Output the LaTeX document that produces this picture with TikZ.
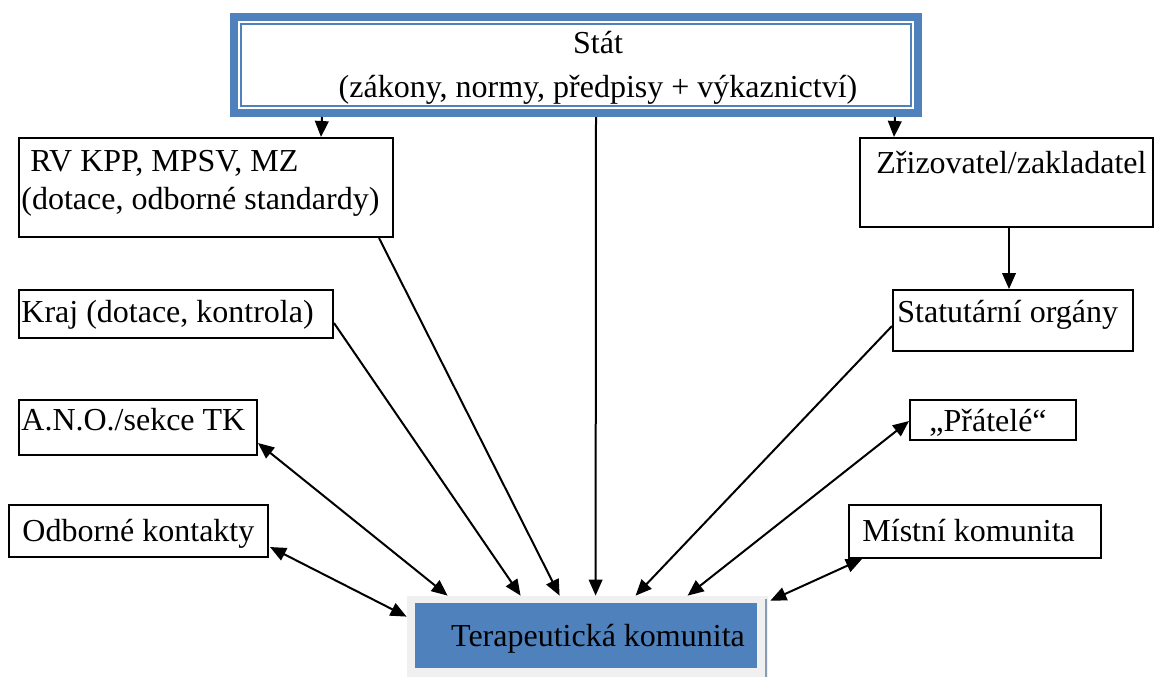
\documentclass[tikz,border=0pt]{standalone}
\usepackage{fontspec}
\setmainfont{Liberation Serif}
\usetikzlibrary{calc,arrows.meta,fit}
\definecolor{tkblue}{HTML}{4F81BD}
\definecolor{tkgray}{HTML}{F0F0F0}
\definecolor{edgegray}{HTML}{8A9BB3}
\begin{document}
\begin{tikzpicture}[x=0.5pt,y=-0.5pt,
  >={Triangle[length=8pt,width=6.8pt]},
  box/.style={draw=black, line width=1pt, rectangle, inner sep=0pt},
  lbl/.style={font=\fontsize{16}{19}\selectfont, inner sep=0pt, anchor=west, text height=1.5ex, text depth=0.3ex, yshift=-2.75pt},
  clbl/.style={lbl, anchor=center},
  arr/.style={->, line width=1pt},
  darr/.style={<->, line width=1pt}]
\useasboundingbox (0,0) rectangle (1157,677);

% state (top) box with double blue frame
\node[draw=tkblue, line width=4pt, inner sep=0pt, fit={(234,17) (918,113)}] (stat) {};
\draw[tkblue, line width=0.8pt] (241,24) rectangle (911,106);
\node[clbl] (statA) at (598,42) {Stát};
\node[clbl] (statB) at (598,86) {(zákony, normy, předpisy + výkaznictví)};

% left column
\node[box, fit={(19,138) (393,237)}] (rv) {};
\node[lbl] (rvA) at (30,160) {RV KPP, MPSV, MZ};
\node[lbl] (rvB) at (21,198) {(dotace, odborné standardy)};

\node[box, fit={(19,290) (333,338)}] (kraj) {};
\node[lbl] (krajT) at (21,311) {Kraj (dotace, kontrola)};

\node[box, fit={(19,400) (257,455)}] (ano) {};
\node[lbl] (anoT) at (21,419) {A.N.O./sekce TK};

\node[box, fit={(9,505) (268,557)}] (odb) {};
\node[lbl] (odbT) at (22,530) {Odborné kontakty};

% right column
\node[box, fit={(860,138) (1153,227)}] (zriz) {};
\node[lbl] (zrizT) at (876,162) {Zřizovatel/zakladatel};

\node[box, fit={(893,290) (1133,351)}] (stut) {};
\node[lbl] (stutT) at (897,311) {Statutární orgány};

\node[box, fit={(910,400) (1076,440)}] (prat) {};
\node[lbl] (pratT) at (929,420) {„Přátelé“};

\node[box, fit={(849,505) (1101,558)}] (mist) {};
\node[lbl] (mistT) at (862,530) {Místní komunita};

% therapeutic community (bottom)
\node[fill=tkgray, inner sep=0pt, fit={(407,596) (768,677)}] (tkout) {};
\node[fill=tkblue, inner sep=0pt, fit={(415,603) (757,668)}] (tk) {};
\draw[edgegray, line width=1pt] ($(tkout.north east)+(-2,3)$) -- ($(tkout.south east)+(-2,0)$);
\node[clbl] (tkT) at (598,635) {Terapeutická komunita};

% connectors from the state
\draw[arr] ($(stat.south west)+(92,0)$) -- ($(rv.north west)+(303,0)$);
\draw[arr] ($(stat.south west)+(665,0)$) -- ($(zriz.north west)+(35,0)$);
\draw[arr] ($(stat.south west)+(366,0)$) -- ($(tkout.north west)+(189,0)$);

% founder chain
\draw[arr] ($(zriz.south west)+(150,0)$) -- ($(stut.north west)+(117,0)$);

% one-way influences on the community
\draw[arr] ($(rv.south west)+(361,0)$) -- ($(tkout.north west)+(153,0)$);
\draw[arr] ($(kraj.south east)+(0,-16)$) -- ($(tkout.north west)+(114,0)$);
\draw[arr] ($(stut.south west)+(0,-26)$) -- ($(tkout.north west)+(229,0)$);

% two-way relations
\draw[darr] ($(ano.south east)+(0,-13)$) -- ($(tkout.north west)+(41,0)$);
\draw[darr] ($(odb.south east)+(1,-11)$) -- ($(tkout.north west)+(0,21)$);
\draw[darr] ($(prat.south west)+(0,-20)$) -- ($(tkout.north west)+(281,0)$);
\draw[darr] ($(mist.south west)+(14,0)$) -- ($(tkout.north east)+(2,5)$);
\end{tikzpicture}
\end{document}
